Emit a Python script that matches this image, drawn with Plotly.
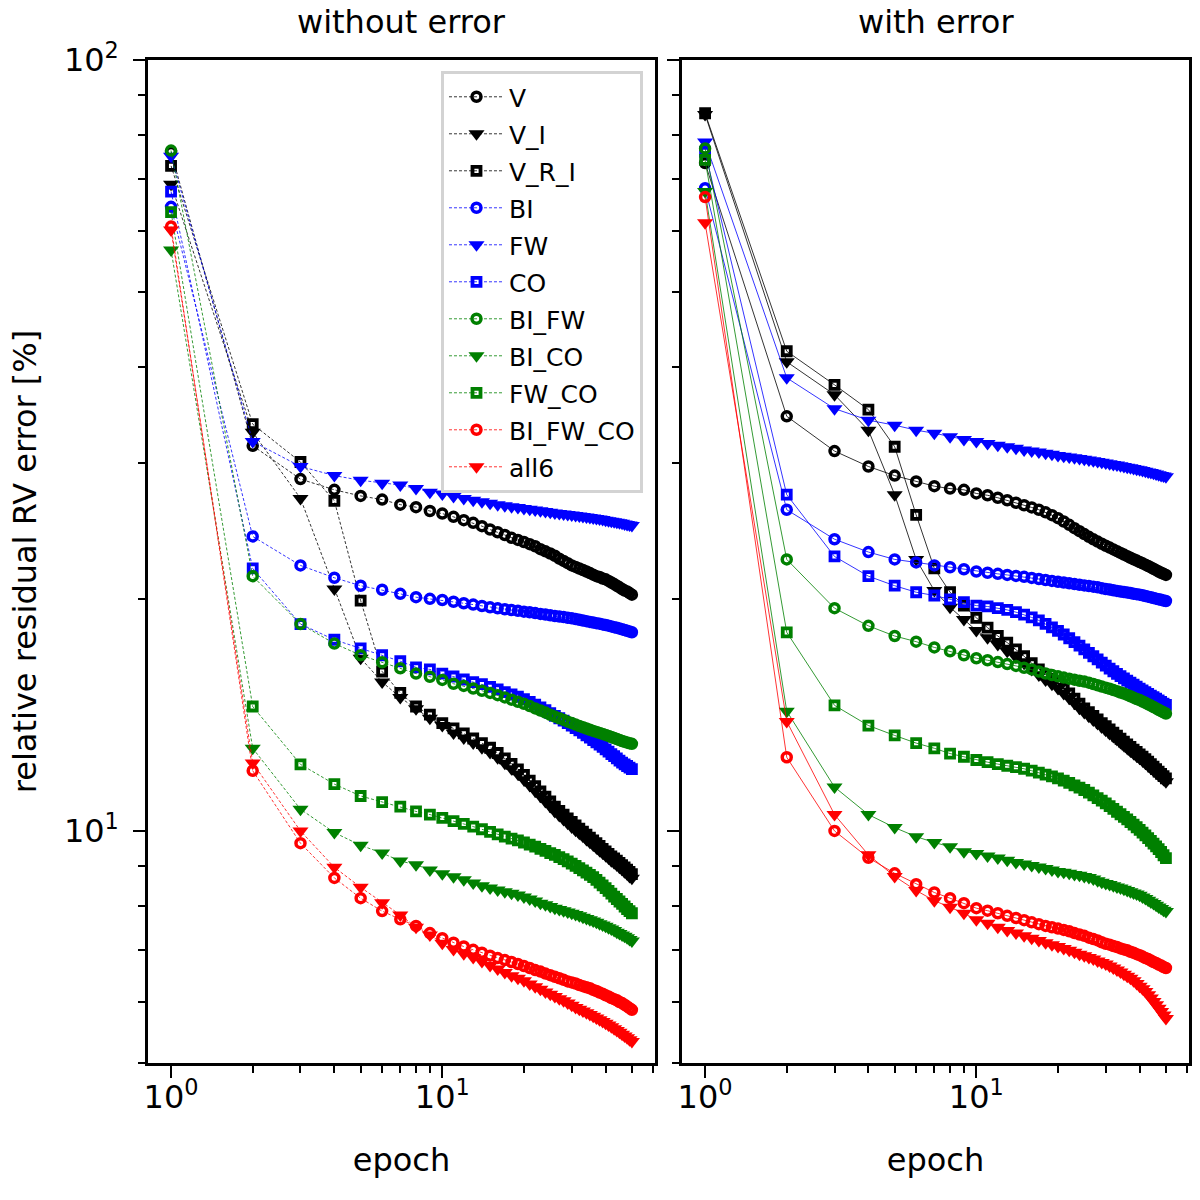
import plotly.graph_objects as go

epochs = list(range(1, 51))

# ---- without error (left panel) ----
v_noerr = [76.0, 31.6, 28.6, 27.7, 27.2, 26.9, 26.5, 26.3, 26.0, 25.8,
           25.55, 25.3, 25.1, 24.85, 24.6, 24.4, 24.2, 24.0, 23.85, 23.7,
           23.55, 23.4, 23.2, 23.05, 22.9, 22.75, 22.55, 22.4, 22.25, 22.1,
           22.0, 21.9, 21.8, 21.7, 21.6, 21.5, 21.4, 21.35, 21.25, 21.2,
           21.1, 21.0, 20.9, 20.8, 20.7, 20.6, 20.5, 20.45, 20.35, 20.25]
v_i_noerr = [69.0, 32.9, 27.0, 20.6, 16.75, 15.6, 14.9, 14.4, 14.0, 13.7,
             13.4, 13.2, 13.0, 12.82, 12.64, 12.44, 12.24, 12.04, 11.85, 11.65,
             11.45, 11.27, 11.09, 10.92, 10.76, 10.6, 10.47, 10.35, 10.23, 10.12,
             10.02, 9.93, 9.84, 9.75, 9.67, 9.59, 9.51, 9.43, 9.36, 9.29,
             9.22, 9.15, 9.09, 9.03, 8.97, 8.91, 8.85, 8.79, 8.73, 8.68]
v_r_i_noerr = [72.9, 33.7, 30.1, 26.8, 19.9, 16.1, 15.1, 14.5, 14.15, 13.8,
               13.58, 13.38, 13.18, 13.0, 12.82, 12.62, 12.42, 12.22, 12.02, 11.82,
               11.62, 11.43, 11.25, 11.08, 10.92, 10.75, 10.62, 10.5, 10.38, 10.27,
               10.17, 10.07, 9.98, 9.89, 9.8, 9.72, 9.64, 9.56, 9.48, 9.41,
               9.34, 9.27, 9.21, 9.15, 9.09, 9.03, 8.97, 8.91, 8.85, 8.79]
bi_noerr = [64.5, 24.1, 22.1, 21.3, 20.8, 20.55, 20.3, 20.1, 20.0, 19.93,
            19.83, 19.74, 19.66, 19.58, 19.5, 19.44, 19.39, 19.34, 19.3, 19.25,
            19.21, 19.17, 19.12, 19.08, 19.04, 19.0, 18.97, 18.94, 18.9, 18.87,
            18.83, 18.79, 18.75, 18.71, 18.67, 18.63, 18.6, 18.57, 18.53, 18.5,
            18.46, 18.42, 18.38, 18.34, 18.3, 18.26, 18.22, 18.18, 18.14, 18.1]
fw_noerr = [75.0, 32.0, 29.7, 28.9, 28.5, 28.25, 28.1, 27.8, 27.5, 27.35,
            27.15, 27.0, 26.85, 26.72, 26.6, 26.5, 26.42, 26.34, 26.27, 26.2,
            26.14, 26.08, 26.02, 25.96, 25.9, 25.85, 25.8, 25.76, 25.73, 25.7,
            25.66, 25.62, 25.58, 25.54, 25.5, 25.46, 25.42, 25.38, 25.34, 25.3,
            25.26, 25.22, 25.18, 25.14, 25.1, 25.06, 25.02, 24.98, 24.94, 24.9]
co_noerr = [67.5, 21.9, 18.55, 17.7, 17.25, 16.9, 16.6, 16.3, 16.2, 16.0,
            15.86, 15.72, 15.6, 15.5, 15.38, 15.26, 15.14, 15.03, 14.93, 14.82,
            14.7, 14.58, 14.46, 14.34, 14.22, 14.1, 14.0, 13.9, 13.8, 13.7,
            13.6, 13.5, 13.4, 13.3, 13.21, 13.12, 13.03, 12.94, 12.85, 12.76,
            12.67, 12.58, 12.5, 12.42, 12.34, 12.26, 12.2, 12.14, 12.08, 12.03]
bi_fw_noerr = [76.3, 21.4, 18.55, 17.5, 16.9, 16.55, 16.25, 16.0, 15.85, 15.7,
               15.52, 15.42, 15.3, 15.2, 15.1, 15.0, 14.9, 14.8, 14.71, 14.62,
               14.52, 14.42, 14.33, 14.24, 14.15, 14.07, 14.0, 13.93, 13.86, 13.8,
               13.74, 13.68, 13.63, 13.58, 13.53, 13.48, 13.44, 13.4, 13.36, 13.32,
               13.28, 13.24, 13.2, 13.16, 13.12, 13.08, 13.05, 13.02, 12.99, 12.97]
bi_co_noerr = [56.7, 12.8, 10.67, 9.95, 9.58, 9.36, 9.14, 9.04, 8.9, 8.8,
               8.72, 8.64, 8.56, 8.49, 8.43, 8.38, 8.34, 8.3, 8.26, 8.21,
               8.16, 8.11, 8.06, 8.02, 7.98, 7.94, 7.91, 7.88, 7.85, 7.82,
               7.79, 7.76, 7.73, 7.7, 7.67, 7.64, 7.61, 7.58, 7.55, 7.52,
               7.49, 7.46, 7.43, 7.39, 7.36, 7.33, 7.3, 7.27, 7.23, 7.2]
fw_co_noerr = [63.5, 14.5, 12.2, 11.5, 11.1, 10.9, 10.75, 10.6, 10.5, 10.4,
               10.3, 10.21, 10.13, 10.05, 9.97, 9.9, 9.83, 9.77, 9.72, 9.66,
               9.6, 9.54, 9.48, 9.42, 9.36, 9.31, 9.25, 9.19, 9.13, 9.07,
               9.01, 8.95, 8.89, 8.83, 8.77, 8.71, 8.64, 8.57, 8.5, 8.43,
               8.36, 8.29, 8.22, 8.16, 8.1, 8.04, 7.98, 7.92, 7.87, 7.82]
bi_fw_co_noerr = [60.8, 11.97, 9.64, 8.69, 8.18, 7.87, 7.68, 7.53, 7.37, 7.26,
                  7.16, 7.08, 7.01, 6.95, 6.89, 6.84, 6.8, 6.76, 6.72, 6.68,
                  6.64, 6.6, 6.57, 6.53, 6.5, 6.47, 6.44, 6.41, 6.38, 6.36,
                  6.34, 6.31, 6.29, 6.27, 6.25, 6.22, 6.2, 6.17, 6.15, 6.12,
                  6.1, 6.07, 6.05, 6.03, 6.0, 5.98, 5.95, 5.92, 5.89, 5.86]
all6_noerr = [60.2, 12.25, 10.0, 8.97, 8.45, 8.07, 7.78, 7.5, 7.33, 7.15,
              7.02, 6.93, 6.85, 6.77, 6.69, 6.62, 6.55, 6.49, 6.44, 6.39,
              6.33, 6.28, 6.23, 6.18, 6.14, 6.1, 6.06, 6.02, 5.98, 5.94,
              5.9, 5.87, 5.84, 5.81, 5.78, 5.75, 5.72, 5.69, 5.66, 5.63,
              5.6, 5.57, 5.54, 5.51, 5.48, 5.45, 5.42, 5.39, 5.36, 5.33]

# ---- with error (right panel) ----
v_err = [73.5, 34.5, 31.1, 29.7, 28.9, 28.4, 28.0, 27.8, 27.7, 27.4,
         27.25, 27.05, 26.85, 26.65, 26.45, 26.28, 26.1, 25.9, 25.68, 25.45,
         25.2, 24.95, 24.7, 24.48, 24.27, 24.07, 23.89, 23.73, 23.58, 23.44,
         23.31, 23.18, 23.06, 22.94, 22.83, 22.72, 22.61, 22.51, 22.42, 22.33,
         22.24, 22.15, 22.06, 21.97, 21.88, 21.79, 21.7, 21.62, 21.55, 21.48]
v_i_err = [85.0, 40.6, 36.8, 33.1, 27.3, 22.5, 20.5, 19.5, 18.8, 18.2,
           17.8, 17.45, 17.1, 16.8, 16.5, 16.2, 15.93, 15.7, 15.5, 15.3,
           15.08, 14.86, 14.64, 14.43, 14.24, 14.08, 13.93, 13.78, 13.64, 13.51,
           13.38, 13.26, 13.14, 13.02, 12.91, 12.8, 12.7, 12.6, 12.51, 12.42,
           12.33, 12.24, 12.15, 12.06, 11.98, 11.9, 11.82, 11.74, 11.66, 11.58]
v_r_i_err = [85.3, 41.9, 37.9, 35.2, 31.5, 25.7, 21.9, 20.4, 19.6, 18.9,
             18.35, 17.9, 17.55, 17.2, 16.85, 16.5, 16.2, 15.95, 15.75, 15.55,
             15.3, 15.08, 14.85, 14.62, 14.42, 14.26, 14.1, 13.95, 13.8, 13.67,
             13.54, 13.41, 13.29, 13.17, 13.06, 12.95, 12.85, 12.75, 12.66, 12.57,
             12.48, 12.39, 12.3, 12.21, 12.12, 12.03, 11.94, 11.86, 11.78, 11.7]
bi_err = [68.2, 26.1, 23.9, 23.0, 22.5, 22.3, 22.1, 21.98, 21.85, 21.7,
          21.62, 21.55, 21.48, 21.42, 21.36, 21.29, 21.22, 21.16, 21.1, 21.05,
          21.0, 20.95, 20.9, 20.86, 20.82, 20.78, 20.74, 20.7, 20.65, 20.6,
          20.56, 20.52, 20.48, 20.44, 20.41, 20.38, 20.35, 20.31, 20.28, 20.25,
          20.21, 20.17, 20.13, 20.09, 20.05, 20.01, 19.97, 19.94, 19.9, 19.87]
fw_err = [78.3, 38.7, 35.3, 34.1, 33.6, 33.1, 32.8, 32.45, 32.2, 32.0,
          31.82, 31.65, 31.5, 31.35, 31.2, 31.1, 31.0, 30.9, 30.8, 30.7,
          30.63, 30.56, 30.49, 30.42, 30.35, 30.28, 30.21, 30.14, 30.07, 30.0,
          29.94, 29.88, 29.82, 29.76, 29.7, 29.64, 29.58, 29.52, 29.46, 29.4,
          29.34, 29.28, 29.22, 29.16, 29.1, 29.04, 28.98, 28.92, 28.86, 28.8]
co_err = [76.0, 27.3, 22.7, 21.4, 20.8, 20.4, 20.2, 19.97, 19.8, 19.6,
          19.55, 19.45, 19.35, 19.22, 19.08, 18.92, 18.75, 18.56, 18.37, 18.18,
          17.98, 17.78, 17.58, 17.39, 17.2, 17.02, 16.85, 16.69, 16.53, 16.38,
          16.24, 16.11, 15.99, 15.88, 15.77, 15.67, 15.57, 15.48, 15.39, 15.3,
          15.22, 15.14, 15.06, 14.98, 14.91, 14.84, 14.77, 14.7, 14.63, 14.57]
bi_fw_err = [76.8, 22.5, 19.45, 18.45, 17.9, 17.6, 17.3, 17.1, 16.9, 16.75,
             16.65, 16.56, 16.46, 16.37, 16.28, 16.2, 16.1, 16.0, 15.93, 15.87,
             15.81, 15.76, 15.71, 15.66, 15.62, 15.57, 15.51, 15.45, 15.39, 15.34,
             15.29, 15.23, 15.18, 15.12, 15.07, 15.01, 14.95, 14.89, 14.83, 14.78,
             14.72, 14.66, 14.6, 14.54, 14.48, 14.42, 14.36, 14.3, 14.25, 14.2]
bi_co_err = [67.5, 14.3, 11.4, 10.5, 10.1, 9.83, 9.66, 9.54, 9.4, 9.35,
             9.28, 9.22, 9.16, 9.1, 9.06, 9.02, 8.98, 8.94, 8.9, 8.86,
             8.84, 8.81, 8.78, 8.76, 8.73, 8.7, 8.66, 8.62, 8.58, 8.55,
             8.52, 8.49, 8.46, 8.43, 8.4, 8.37, 8.34, 8.31, 8.28, 8.25,
             8.21, 8.17, 8.13, 8.09, 8.05, 8.01, 7.97, 7.93, 7.89, 7.86]
fw_co_err = [74.2, 18.1, 14.55, 13.7, 13.3, 13.0, 12.8, 12.6, 12.48, 12.36,
             12.28, 12.21, 12.15, 12.1, 12.04, 11.97, 11.9, 11.83, 11.77, 11.7,
             11.62, 11.54, 11.46, 11.38, 11.3, 11.21, 11.12, 11.03, 10.95, 10.86,
             10.77, 10.68, 10.59, 10.51, 10.43, 10.35, 10.27, 10.19, 10.11, 10.03,
             9.95, 9.87, 9.79, 9.71, 9.63, 9.55, 9.47, 9.39, 9.3, 9.22]
bi_fw_co_err = [66.4, 12.46, 10.0, 9.23, 8.81, 8.53, 8.32, 8.18, 8.06, 7.94,
                7.88, 7.82, 7.76, 7.71, 7.66, 7.61, 7.57, 7.53, 7.5, 7.47,
                7.44, 7.41, 7.37, 7.34, 7.31, 7.27, 7.24, 7.21, 7.17, 7.14,
                7.12, 7.09, 7.07, 7.04, 7.02, 7.0, 6.97, 6.95, 6.92, 6.9,
                6.87, 6.84, 6.82, 6.79, 6.76, 6.74, 6.71, 6.69, 6.66, 6.64]
all6_err = [61.5, 13.87, 10.5, 9.31, 8.73, 8.37, 8.12, 7.96, 7.82, 7.67,
            7.59, 7.5, 7.43, 7.37, 7.31, 7.26, 7.21, 7.16, 7.12, 7.08,
            7.04, 7.0, 6.96, 6.92, 6.89, 6.85, 6.82, 6.78, 6.75, 6.72,
            6.68, 6.64, 6.6, 6.56, 6.52, 6.48, 6.44, 6.39, 6.34, 6.29,
            6.24, 6.19, 6.13, 6.07, 6.01, 5.95, 5.89, 5.83, 5.77, 5.71]

names = ['V', 'V_I', 'V_R_I', 'BI', 'FW', 'CO', 'BI_FW', 'BI_CO', 'FW_CO', 'BI_FW_CO', 'all6']
noerr = [v_noerr, v_i_noerr, v_r_i_noerr, bi_noerr, fw_noerr, co_noerr,
         bi_fw_noerr, bi_co_noerr, fw_co_noerr, bi_fw_co_noerr, all6_noerr]
err = [v_err, v_i_err, v_r_i_err, bi_err, fw_err, co_err,
       bi_fw_err, bi_co_err, fw_co_err, bi_fw_co_err, all6_err]
colors = ['black'] * 3 + ['blue'] * 3 + ['green'] * 3 + ['red'] * 2
shapes = ['o', 'v', 's'] * 3 + ['o', 'v']

FONT = 'DejaVu Sans'


def marker_for(shape, color):
    if shape == 'o':
        return dict(symbol='circle-open', size=9, color=color, line=dict(width=3.5, color=color))
    if shape == 's':
        return dict(symbol='square-open', size=8, color=color, line=dict(width=3.8, color=color))
    return dict(symbol='triangle-down', size=14, color=color, line=dict(width=0))


fig = go.Figure()

# 左图：虚线，带图例（每条单独一组，用 tracegroupgap 拉开行距）
for name, ys, c, s in zip(names, noerr, colors, shapes):
    fig.add_trace(go.Scatter(x=epochs, y=ys, name=name, mode='lines+markers', legendgroup=name,
                             line=dict(color=c, width=0.8, dash='3px,2px'),
                             marker=marker_for(s, c), xaxis='x', yaxis='y'))

# 右图：细实线，无图例
for name, ys, c, s in zip(names, err, colors, shapes):
    fig.add_trace(go.Scatter(x=epochs, y=ys, name=name, mode='lines+markers', showlegend=False,
                             line=dict(color=c, width=0.8),
                             marker=marker_for(s, c), xaxis='x2', yaxis='y2'))

xminor = dict(tickmode='array', tickvals=[2, 3, 4, 5, 6, 7, 8, 9, 20, 30, 40, 50, 60],
              ticks='outside', ticklen=7, tickwidth=1.8, tickcolor='black')
yminor = dict(tickmode='array', tickvals=[5, 6, 7, 8, 9, 20, 30, 40, 50, 60, 70, 80, 90],
              ticks='outside', ticklen=7, tickwidth=1.8, tickcolor='black')

xcommon = dict(type='log', range=[-0.085, 1.784], tickmode='array', tickvals=[1, 10],
               ticktext=['10<sup>0</sup>', '10<sup>1</sup>'], ticks='outside', ticklen=12,
               tickwidth=2, tickcolor='black', showline=True, mirror=True, linewidth=2.5,
               linecolor='black', showgrid=False, zeroline=False, minor=xminor, automargin=False,
               ticklabelstandoff=-8,
               tickfont=dict(size=32, color='black', family=FONT),
               title=dict(text='epoch', font=dict(size=32, color='black', family=FONT), standoff=34))
ycommon = dict(type='log', range=[0.69897, 2.0], tickmode='array', tickvals=[10, 100],
               ticktext=['10<sup>1</sup>', '10<sup>2</sup>'], ticks='outside', ticklen=12,
               tickwidth=2, tickcolor='black', showline=True, mirror=True, linewidth=2.5,
               linecolor='black', showgrid=False, zeroline=False, minor=yminor, automargin=False,
               tickfont=dict(size=32, color='black', family=FONT))

fig.update_layout(
    autosize=False, width=1200, height=1200,
    margin=dict(l=148, r=11, t=60, b=137, autoexpand=False),
    paper_bgcolor='white', plot_bgcolor='white',
    font=dict(family=FONT, color='black'),
    xaxis=dict(xcommon, domain=[0, 0.487], anchor='y'),
    xaxis2=dict(xcommon, domain=[0.513, 1], anchor='y2'),
    yaxis=dict(ycommon, anchor='x', ticklabelstandoff=8,
               title=dict(text='relative residual RV error [%]',
                          font=dict(size=32, color='black', family=FONT), standoff=18)),
    yaxis2=dict(ycommon, anchor='x2', matches='y', showticklabels=False),
    showlegend=True,
    legend=dict(x=0.4755, y=0.989, xanchor='right', yanchor='top',
                bgcolor='rgba(255,255,255,0.8)', bordercolor='#d3d3d3', borderwidth=3,
                font=dict(size=25, color='black', family=FONT), itemwidth=55,
                tracegroupgap=1.5),
    annotations=[
        dict(text='without error', x=0.5, y=1, xref='x domain', yref='y domain',
             xanchor='center', yanchor='bottom', yshift=17, showarrow=False,
             font=dict(size=32, color='black', family=FONT)),
        dict(text='with error', x=0.5, y=1, xref='x2 domain', yref='y2 domain',
             xanchor='center', yanchor='bottom', yshift=17, showarrow=False,
             font=dict(size=32, color='black', family=FONT)),
    ],
)

# 去掉页面默认 8px 边距，让图从左上角开始；隐藏工具栏
fig.write_html('out.html', config={'displayModeBar': False},
               post_script="document.body.style.margin='0';")
